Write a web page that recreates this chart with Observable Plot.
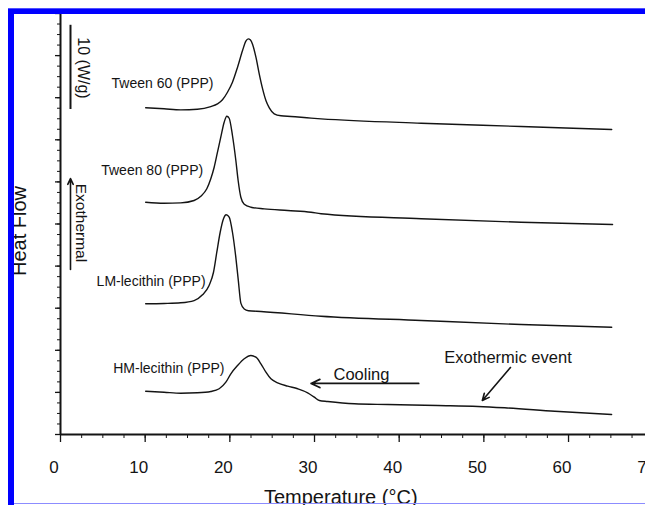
<!DOCTYPE html>
<html>
<head>
<meta charset="utf-8">
<script src="https://cdn.jsdelivr.net/npm/d3@7"></script>
<script src="https://cdn.jsdelivr.net/npm/@observablehq/plot@0.6"></script>
<style>
  html, body { margin: 0; padding: 0; background: #fff; overflow: hidden; }
  #wrap { position: relative; width: 645px; height: 505px; }
  .bar { position: absolute; background: #0000ff; }
</style>
</head>
<body>
<div id="wrap"></div>
<script>
// Temperature (°C), heat flow (W/g, vertically offset)
const tween60 = [[10.06,38.80],[12.23,38.68],[14.20,38.56],[16.17,38.63],[17.75,38.95],[18.54,39.27],[19.13,39.75],[19.72,40.65],[20.31,41.84],[20.91,43.62],[21.50,45.60],[21.89,46.71],[22.17,46.99],[22.41,46.87],[22.69,46.32],[23.08,44.81],[23.47,42.84],[23.87,41.05],[24.26,39.67],[24.66,38.80],[25.24,38.09],[26.04,37.85],[27.22,37.77],[29.59,37.57],[30.77,37.49],[42.6,36.97],[54.4,36.58],[65.1,36.22]];
const tween80 = [[10.06,27.59],[12.23,27.47],[14.20,27.51],[15.78,27.79],[16.57,28.30],[17.28,29.18],[17.75,30.37],[18.15,31.74],[18.54,33.53],[18.93,35.31],[19.33,37.09],[19.64,37.80],[19.92,37.56],[20.31,35.51],[20.71,32.54],[20.98,30.17],[21.30,28.18],[21.70,27.35],[22.49,26.99],[24.06,26.80],[26.83,26.60],[29.59,26.40],[30.77,26.21],[42.6,25.62],[54.4,25.21],[65.2,24.94]];
const lmLecithin = [[10.06,15.52],[12.23,15.56],[14.20,15.64],[15.78,15.91],[16.77,16.59],[17.55,17.70],[18.07,19.27],[18.46,21.65],[18.86,24.02],[19.25,25.62],[19.57,26.09],[19.92,25.81],[20.31,24.02],[20.70,21.10],[21.00,18.30],[21.30,15.60],[21.70,14.90],[22.20,14.70],[23.67,14.61],[30.77,14.05],[42.6,13.54],[54.4,13.06],[65.1,12.74]];
const hmLecithin = [[10.06,5.14],[12.23,5.02],[14.20,4.90],[16.17,4.95],[17.75,5.11],[18.74,5.43],[19.53,6.21],[20.12,7.21],[20.91,8.19],[21.70,8.99],[22.49,9.38],[23.08,9.18],[23.67,8.40],[24.26,7.40],[24.85,6.61],[25.64,6.14],[26.83,5.74],[28.01,5.43],[29.19,4.95],[29.98,4.43],[30.57,4.04],[31.56,3.92],[34.71,3.65],[38.66,3.56],[44.58,3.44],[49.31,3.33],[52.46,3.17],[58.38,2.77],[65.09,2.38]];

const seriesNames = ["Tween 60 (PPP)", "Tween 80 (PPP)", "LM-lecithin (PPP)", "HM-lecithin (PPP)"];
const seriesData = [tween60, tween80, lmLecithin, hmLecithin];
const labelT = [18.07, 16.85, 17.13, 19.37];
const labelV = [41.68, 31.35, 18.21, 7.80];

const xTickLabels = [0, 10, 20, 30, 40, 50, 60, 70];
const xMinorTicks = d3.range(0, 70.001, 2.5);
const yMajorTicks = [0, 5, 10, 15, 20, 25, 30, 35, 40, 45, 50];
const yMinorTicks = d3.range(0, 50.001, 1.25);

const coolingArrow = {x1: 42.3, y1: 6.06, x2: 29.6, y2: 6.06, text: "Cooling", tx: 32.24, ty: 7.07};
const exoEventArrow = {x1: 53.14, y1: 7.96, x2: 49.82, y2: 4.04, text: "Exothermic event", tx: 52.85, ty: 9.14};
const scaleBar = {x: 1.18, y1: 38.6, y2: 48.6, text: "10 (W/g)", tx: 2.65, ty: 43.53};
const exoArrow = {x: 1.18, y1: 19.6, y2: 30.4, text: "Exothermal", tx: 2.36, ty: 25.12};
const xTitle = "Temperature (°C)";
const yTitle = "Heat Flow";

const curves = seriesData.flatMap((s, i) => s.map(([T, v]) => ({series: seriesNames[i], T, v})));
const labels = seriesNames.map((name, i) => ({name, T: labelT[i], v: labelV[i]}));

const font = "'Liberation Sans', Arial, Helvetica, sans-serif";
const ink = "#141414";

const chart = Plot.plot({
  width: 645,
  height: 505,
  marginTop: 13,
  marginBottom: 71,
  marginLeft: 60,
  marginRight: 0,
  x: {domain: [0, 70], range: [60, 652.7]},
  y: {domain: [0, 50]},
  style: {background: "transparent", overflow: "visible", fontFamily: font, fontSize: "17px", color: ink},
  marks: [
    Plot.axisX(xMinorTicks, {tickSize: 4, tickFormat: () => "", label: null}),
    Plot.axisX(xTickLabels, {tickSize: 8, tickFormat: () => "", label: null, strokeWidth: 1.3}),
    Plot.axisX(xTickLabels, {tickSize: 0, tickPadding: 26, dx: -6.5, fontSize: 17, label: null}),
    Plot.axisY(yMinorTicks, {tickSize: 3, tickFormat: () => "", label: null}),
    Plot.axisY(yMajorTicks, {tickSize: 5, tickFormat: () => "", label: null, strokeWidth: 1.3}),
    Plot.ruleY([0], {stroke: ink, strokeWidth: 2}),
    Plot.ruleX([0], {stroke: ink, strokeWidth: 2}),
    Plot.line(curves, {x: "T", y: "v", z: "series", stroke: ink, strokeWidth: 1.4, curve: "monotone-x"}),
    Plot.text(labels, {x: "T", y: "v", text: "name", textAnchor: "end", fontSize: 14, fill: ink}),
    Plot.arrow([coolingArrow], {x1: "x1", y1: "y1", x2: "x2", y2: "y2", stroke: ink, strokeWidth: 1.8, headLength: 8, headAngle: 50}),
    Plot.text([coolingArrow], {x: "tx", y: "ty", text: "text", textAnchor: "start", fontSize: 16.5, fill: ink}),
    Plot.arrow([exoEventArrow], {x1: "x1", y1: "y1", x2: "x2", y2: "y2", stroke: ink, strokeWidth: 1.6, headLength: 7, headAngle: 50}),
    Plot.text([exoEventArrow], {x: "tx", y: "ty", text: "text", fontSize: 16.5, fill: ink}),
    Plot.ruleX([scaleBar], {x: "x", y1: "y1", y2: "y2", stroke: ink, strokeWidth: 2}),
    Plot.text([scaleBar], {x: "tx", y: "ty", text: "text", rotate: 90, fontSize: 16, fill: ink}),
    Plot.arrow([exoArrow], {x1: "x", y1: "y1", x2: "x", y2: "y2", stroke: ink, strokeWidth: 1.6, headLength: 6, headAngle: 50}),
    Plot.text([exoArrow], {x: "tx", y: "ty", text: "text", rotate: 90, fontSize: 15.5, fill: ink}),
    Plot.text([xTitle], {x: 33.1, y: -7.48, text: d => d, fontSize: 20, fill: ink}),
    Plot.text([yTitle], {x: -4.78, y: 24.17, text: d => d, rotate: -90, fontSize: 20, fill: ink})
  ]
});

const wrap = document.getElementById("wrap");
wrap.appendChild(chart);
chart.style.position = "absolute";
chart.style.left = "0px";
chart.style.top = "0px";

function addBar(l, t, w, h, color) {
  const d = document.createElement("div");
  d.className = "bar";
  d.style.left = l + "px"; d.style.top = t + "px";
  d.style.width = w + "px"; d.style.height = h + "px";
  if (color) d.style.background = color;
  wrap.appendChild(d);
}
addBar(8, 8, 637, 6);
addBar(8, 8, 6, 497);
addBar(14, 503, 631, 1, "#8c8cff");
addBar(8, 8, 637, 1, "#5050ff");
</script>
</body>
</html>
